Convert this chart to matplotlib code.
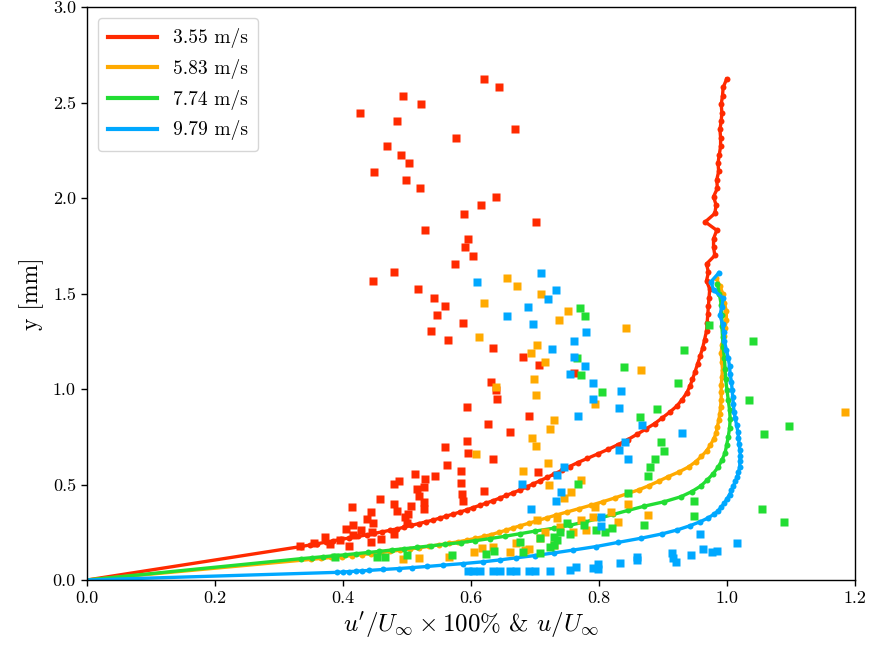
import numpy as np
import matplotlib
matplotlib.use("Agg")
import matplotlib.pyplot as plt
from matplotlib.ticker import FormatStrFormatter, MultipleLocator

plt.rcParams['font.family'] = ['cmr10', 'DejaVu Serif']
plt.rcParams['mathtext.fontset'] = 'cm'
plt.rcParams['axes.unicode_minus'] = False
plt.rcParams['axes.formatter.use_mathtext'] = True

labels = ["3.55 m/s", "5.83 m/s", "7.74 m/s", "9.79 m/s"]
colors = ["#ff2a00", "#ffaa00", "#22dd33", "#00a8ff"]

# ---- mean velocity profiles u/U_inf (y in mm) ----
red_y = [0.175, 0.183, 0.190, 0.198, 0.205, 0.213, 0.220, 0.228, 0.236, 0.244, 0.252, 0.260, 0.268, 0.277,
         0.286, 0.295, 0.304, 0.314, 0.324, 0.334, 0.345, 0.356, 0.367, 0.379, 0.391, 0.403, 0.416, 0.429,
         0.443, 0.457, 0.472, 0.487, 0.503, 0.520, 0.537, 0.555, 0.574, 0.594, 0.615, 0.637, 0.660, 0.684,
         0.709, 0.735, 0.762, 0.790, 0.819, 0.849, 0.880, 0.912, 0.945, 0.979, 1.014, 1.050, 1.090, 1.130,
         1.172, 1.215, 1.259, 1.303, 1.347, 1.391, 1.435, 1.479, 1.523, 1.567, 1.611, 1.655, 1.699, 1.743,
         1.787, 1.831, 1.875, 1.919, 1.963, 2.007, 2.051, 2.095, 2.139, 2.183, 2.227, 2.271, 2.315, 2.359,
         2.403, 2.447, 2.491, 2.535, 2.579, 2.623]
red_u = [0.334, 0.348, 0.360, 0.373, 0.384, 0.397, 0.410, 0.423, 0.437, 0.449, 0.461, 0.473, 0.485, 0.496,
         0.507, 0.518, 0.529, 0.541, 0.551, 0.561, 0.572, 0.583, 0.593, 0.603, 0.614, 0.624, 0.635, 0.645,
         0.655, 0.666, 0.677, 0.687, 0.697, 0.708, 0.719, 0.730, 0.742, 0.754, 0.767, 0.782, 0.798, 0.814,
         0.830, 0.845, 0.859, 0.873, 0.887, 0.899, 0.911, 0.922, 0.930, 0.937, 0.942, 0.946, 0.950, 0.954,
         0.958, 0.962, 0.965, 0.968, 0.969, 0.970, 0.971, 0.972, 0.973, 0.968, 0.971, 0.968, 0.981, 0.979,
         0.979, 0.984, 0.966, 0.981, 0.983, 0.979, 0.985, 0.984, 0.987, 0.986, 0.988, 0.990, 0.990, 0.989,
         0.991, 0.992, 0.991, 0.993, 0.994, 0.9995]

orange_y = [0.108, 0.113, 0.118, 0.123, 0.128, 0.133, 0.138, 0.144, 0.150, 0.156, 0.162, 0.169, 0.176, 0.184,
            0.192, 0.200, 0.209, 0.218, 0.228, 0.238, 0.249, 0.260, 0.272, 0.284, 0.297, 0.311, 0.325, 0.340,
            0.356, 0.373, 0.391, 0.410, 0.430, 0.451, 0.472, 0.494, 0.517, 0.541, 0.566, 0.592, 0.619, 0.647,
            0.676, 0.706, 0.737, 0.769, 0.802, 0.836, 0.871, 0.907, 0.944, 0.982, 1.021, 1.061, 1.102, 1.144,
            1.187, 1.231, 1.275, 1.319, 1.363, 1.407, 1.451, 1.495, 1.539, 1.583]
orange_u = [0.350, 0.366, 0.382, 0.398, 0.414, 0.429, 0.444, 0.459, 0.474, 0.489, 0.504, 0.519, 0.534, 0.550,
            0.565, 0.580, 0.594, 0.607, 0.620, 0.632, 0.643, 0.654, 0.665, 0.677, 0.690, 0.704, 0.718, 0.733,
            0.750, 0.768, 0.787, 0.806, 0.825, 0.843, 0.862, 0.878, 0.893, 0.908, 0.925, 0.940, 0.951, 0.960,
            0.968, 0.974, 0.979, 0.983, 0.985, 0.987, 0.989, 0.990, 0.991, 0.991, 0.991, 0.992, 0.993, 0.992,
            0.991, 0.992, 0.995, 0.997, 0.999, 0.999, 0.996, 0.994, 0.989, 0.983]

green_y = [0.112, 0.117, 0.122, 0.127, 0.132, 0.138, 0.144, 0.150, 0.157, 0.164, 0.171, 0.179, 0.187, 0.196,
           0.206, 0.217, 0.229, 0.242, 0.256, 0.271, 0.287, 0.304, 0.323, 0.343, 0.364, 0.386, 0.410, 0.436,
           0.463, 0.492, 0.523, 0.555, 0.590, 0.627, 0.666, 0.707, 0.750, 0.795, 0.842, 0.891, 0.942, 0.995,
           1.050, 1.106, 1.162, 1.218, 1.274, 1.330, 1.386, 1.442, 1.498, 1.550]
green_u = [0.335, 0.352, 0.369, 0.386, 0.403, 0.421, 0.439, 0.457, 0.476, 0.496, 0.516, 0.537, 0.560, 0.584,
           0.607, 0.630, 0.653, 0.676, 0.700, 0.729, 0.755, 0.778, 0.800, 0.822, 0.845, 0.870, 0.902, 0.928,
           0.945, 0.959, 0.969, 0.978, 0.986, 0.992, 0.997, 0.9995, 1.002, 1.004, 1.005, 1.004, 1.002, 1.000,
           0.998, 0.997, 0.996, 0.994, 0.993, 0.992, 0.992, 0.991, 0.988, 0.985]

blue_y = [0.040, 0.042, 0.044, 0.046, 0.048, 0.050, 0.055, 0.060, 0.065, 0.071, 0.078, 0.086, 0.095, 0.105,
          0.116, 0.128, 0.142, 0.157, 0.175, 0.197, 0.219, 0.241, 0.262, 0.284, 0.305, 0.324, 0.343, 0.362,
          0.382, 0.403, 0.425, 0.447, 0.469, 0.492, 0.516, 0.541, 0.567, 0.594, 0.622, 0.651, 0.681, 0.712,
          0.744, 0.777, 0.811, 0.846, 0.882, 0.919, 0.957, 0.996, 1.036, 1.077, 1.119, 1.162, 1.206, 1.251,
          1.296, 1.341, 1.386, 1.431, 1.475, 1.518, 1.562, 1.609]
blue_u = [0.390, 0.400, 0.410, 0.420, 0.430, 0.440, 0.462, 0.487, 0.508, 0.532, 0.557, 0.588, 0.618, 0.645,
          0.670, 0.700, 0.730, 0.760, 0.795, 0.830, 0.866, 0.898, 0.922, 0.942, 0.958, 0.970, 0.979, 0.986,
          0.991, 0.996, 1.000, 1.004, 1.007, 1.010, 1.013, 1.016, 1.018, 1.020, 1.020, 1.021, 1.020, 1.019,
          1.018, 1.017, 1.015, 1.013, 1.011, 1.010, 1.009, 1.008, 1.007, 1.005, 1.004, 1.002, 0.999, 0.996,
          0.995, 0.993, 0.989, 0.992, 0.994, 0.979, 0.975, 0.9875]

# ---- fluctuation u'/U_inf x 100% ----
red_sy = [2.623, 2.580, 2.536, 2.490, 2.447, 2.403, 2.360, 2.314, 2.271, 2.227, 2.183, 2.138, 2.094, 2.051,
          2.007, 1.962, 1.918, 1.874, 1.831, 1.785, 1.742, 1.698, 1.654, 1.611, 1.565, 1.522, 1.478, 1.435,
          1.389, 1.346, 1.302, 1.258, 1.213, 1.169, 1.126, 1.082, 1.038, 0.995, 0.950, 0.906, 0.860, 0.817,
          0.773, 0.729, 0.698, 0.665, 0.633, 0.604, 0.572, 0.564, 0.555, 0.545, 0.527, 0.520, 0.509, 0.503,
          0.485, 0.476, 0.468, 0.450, 0.441, 0.424, 0.415, 0.407, 0.398, 0.389, 0.381, 0.372, 0.363, 0.354,
          0.346, 0.328, 0.319, 0.297, 0.297, 0.286, 0.269, 0.262, 0.253, 0.241, 0.236, 0.224, 0.213, 0.209,
          0.201, 0.196, 0.188, 0.180, 0.178]
red_s = [0.620, 0.643, 0.494, 0.522, 0.427, 0.484, 0.668, 0.576, 0.468, 0.490, 0.503, 0.448, 0.498, 0.521,
         0.639, 0.616, 0.589, 0.702, 0.528, 0.596, 0.590, 0.603, 0.575, 0.480, 0.447, 0.517, 0.542, 0.560,
         0.547, 0.588, 0.537, 0.564, 0.634, 0.682, 0.706, 0.761, 0.632, 0.639, 0.641, 0.594, 0.691, 0.626,
         0.661, 0.593, 0.559, 0.595, 0.635, 0.562, 0.585, 0.704, 0.5125, 0.543, 0.528, 0.4875, 0.585, 0.479,
         0.526, 0.515, 0.620, 0.586, 0.519, 0.458, 0.587, 0.526, 0.480, 0.506, 0.4145, 0.527, 0.484, 0.444,
         0.502, 0.497, 0.437, 0.447, 0.5005, 0.415, 0.404, 0.428, 0.446, 0.480, 0.416, 0.372, 0.459, 0.395,
         0.444, 0.354, 0.380, 0.409, 0.333]

orange_sy = [1.583, 1.539, 1.496, 1.452, 1.407, 1.363, 1.318, 1.274, 1.230, 1.187, 1.143, 1.098, 1.054, 1.012,
             0.967, 0.923, 0.878, 0.836, 0.791, 0.745, 0.702, 0.658, 0.613, 0.570, 0.525, 0.496, 0.462, 0.430,
             0.400, 0.380, 0.358, 0.339, 0.332, 0.323, 0.314, 0.314, 0.305, 0.279, 0.262, 0.253, 0.253, 0.218,
             0.192, 0.183, 0.174, 0.166, 0.161, 0.157, 0.148, 0.148, 0.119, 0.114, 0.108]
orange_s = [0.657, 0.672, 0.710, 0.620, 0.752, 0.7375, 0.842, 0.612, 0.703, 0.693, 0.716, 0.866, 0.698, 0.639,
            0.7015, 0.794, 1.185, 0.730, 0.723, 0.695, 0.701, 0.608, 0.721, 0.682, 0.772, 0.722, 0.757, 0.745,
            0.845, 0.794, 0.819, 0.877, 0.791, 0.734, 0.772, 0.703, 0.829, 0.739, 0.780, 0.759, 0.716, 0.708,
            0.671, 0.729, 0.635, 0.617, 0.690, 0.684, 0.604, 0.661, 0.565, 0.518, 0.493]

green_sy = [1.424, 1.382, 1.337, 1.250, 1.206, 1.161, 1.117, 1.073, 1.030, 0.984, 0.942, 0.897, 0.853, 0.808,
            0.766, 0.721, 0.677, 0.633, 0.590, 0.546, 0.501, 0.457, 0.414, 0.370, 0.337, 0.305, 0.290, 0.271,
            0.253, 0.262, 0.288, 0.300, 0.239, 0.253, 0.227, 0.209, 0.218, 0.174, 0.183, 0.201, 0.148, 0.140,
            0.153, 0.134, 0.131, 0.131, 0.122, 0.122, 0.120]
green_s = [0.770, 0.778, 0.972, 1.041, 0.933, 0.765, 0.839, 0.772, 0.923, 0.804, 1.035, 0.891, 0.864, 1.097,
           1.058, 0.897, 0.902, 0.887, 0.879, 0.877, 0.767, 0.846, 0.949, 1.054, 0.948, 1.089, 0.870, 0.820,
           0.810, 0.795, 0.776, 0.750, 0.755, 0.739, 0.729, 0.734, 0.708, 0.723, 0.729, 0.677, 0.681, 0.708,
           0.636, 0.624, 0.571, 0.5005, 0.466, 0.453, 0.3875]

blue_sy = [1.606, 1.560, 1.517, 1.473, 1.429, 1.384, 1.340, 1.297, 1.253, 1.209, 1.166, 1.120, 1.077, 1.033,
           0.990, 0.946, 0.902, 0.859, 0.813, 0.768, 0.724, 0.681, 0.635, 0.593, 0.550, 0.503, 0.459, 0.415,
           0.372, 0.328, 0.283, 0.239, 0.195, 0.164, 0.153, 0.148, 0.140, 0.131, 0.122, 0.114, 0.105, 0.096,
           0.087, 0.082, 0.070, 0.061, 0.056, 0.052, 0.047, 0.047, 0.047, 0.047, 0.047, 0.047, 0.047, 0.047,
           0.047, 0.047]
blue_s = [0.709, 0.610, 0.733, 0.721, 0.689, 0.656, 0.697, 0.779, 0.761, 0.727, 0.761, 0.778, 0.754, 0.791,
          0.834, 0.791, 0.831, 0.767, 0.867, 0.930, 0.841, 0.832, 0.845, 0.745, 0.735, 0.679, 0.740, 0.733,
          0.694, 0.803, 0.803, 0.958, 1.016, 0.963, 0.984, 0.976, 0.9145, 0.944, 0.860, 0.916, 0.859, 0.921,
          0.833, 0.798, 0.764, 0.790, 0.799, 0.755, 0.723, 0.700, 0.690, 0.671, 0.661, 0.646, 0.635, 0.614,
          0.603, 0.596]

profiles = [(red_u, red_y), (orange_u, orange_y), (green_u, green_y), (blue_u, blue_y)]
fluct = [(red_s, red_sy), (orange_s, orange_sy), (green_s, green_sy), (blue_s, blue_sy)]

fig = plt.figure(figsize=(8.71, 6.55), dpi=100)
ax = fig.add_axes([0.0999, 0.1145, 0.8817, 0.8748])

handles = []
for (u, y), (s, sy), c, lab in zip(profiles, fluct, colors, labels):
    h, = ax.plot([0.0] + list(u), [0.0] + list(y), color=c, lw=2.4, label=lab, zorder=2)
    ax.plot(u, y, 'o', color=c, ms=4.3, mec='none', zorder=2)
    ax.plot(s, sy, 's', color=c, ms=5.2, mec='none', zorder=3)
    handles.append(h)

ax.set_xlim(0, 1.2)
ax.set_ylim(0, 3.0)
ax.xaxis.set_major_locator(MultipleLocator(0.2))
ax.yaxis.set_major_locator(MultipleLocator(0.5))
ax.xaxis.set_major_formatter(FormatStrFormatter('%.1f'))
ax.yaxis.set_major_formatter(FormatStrFormatter('%.1f'))
ax.tick_params(labelsize=13, direction='out', length=4.5, width=1)
for sp in ax.spines.values():
    sp.set_linewidth(1.0)

ax.set_xlabel(r"$u'/U_\infty \times 100\%$ & $u/U_\infty$", fontsize=18, labelpad=3)
ax.set_ylabel("y [mm]", fontsize=17, labelpad=6)

leg = ax.legend(handles=handles, loc='upper left', fontsize=14, frameon=True,
                fancybox=True, edgecolor='#cccccc', handlelength=2.5,
                borderpad=0.55, labelspacing=0.55, borderaxespad=0.55)
for line in leg.get_lines():
    line.set_linewidth(3.0)

fig.savefig("out.png", dpi=100)
